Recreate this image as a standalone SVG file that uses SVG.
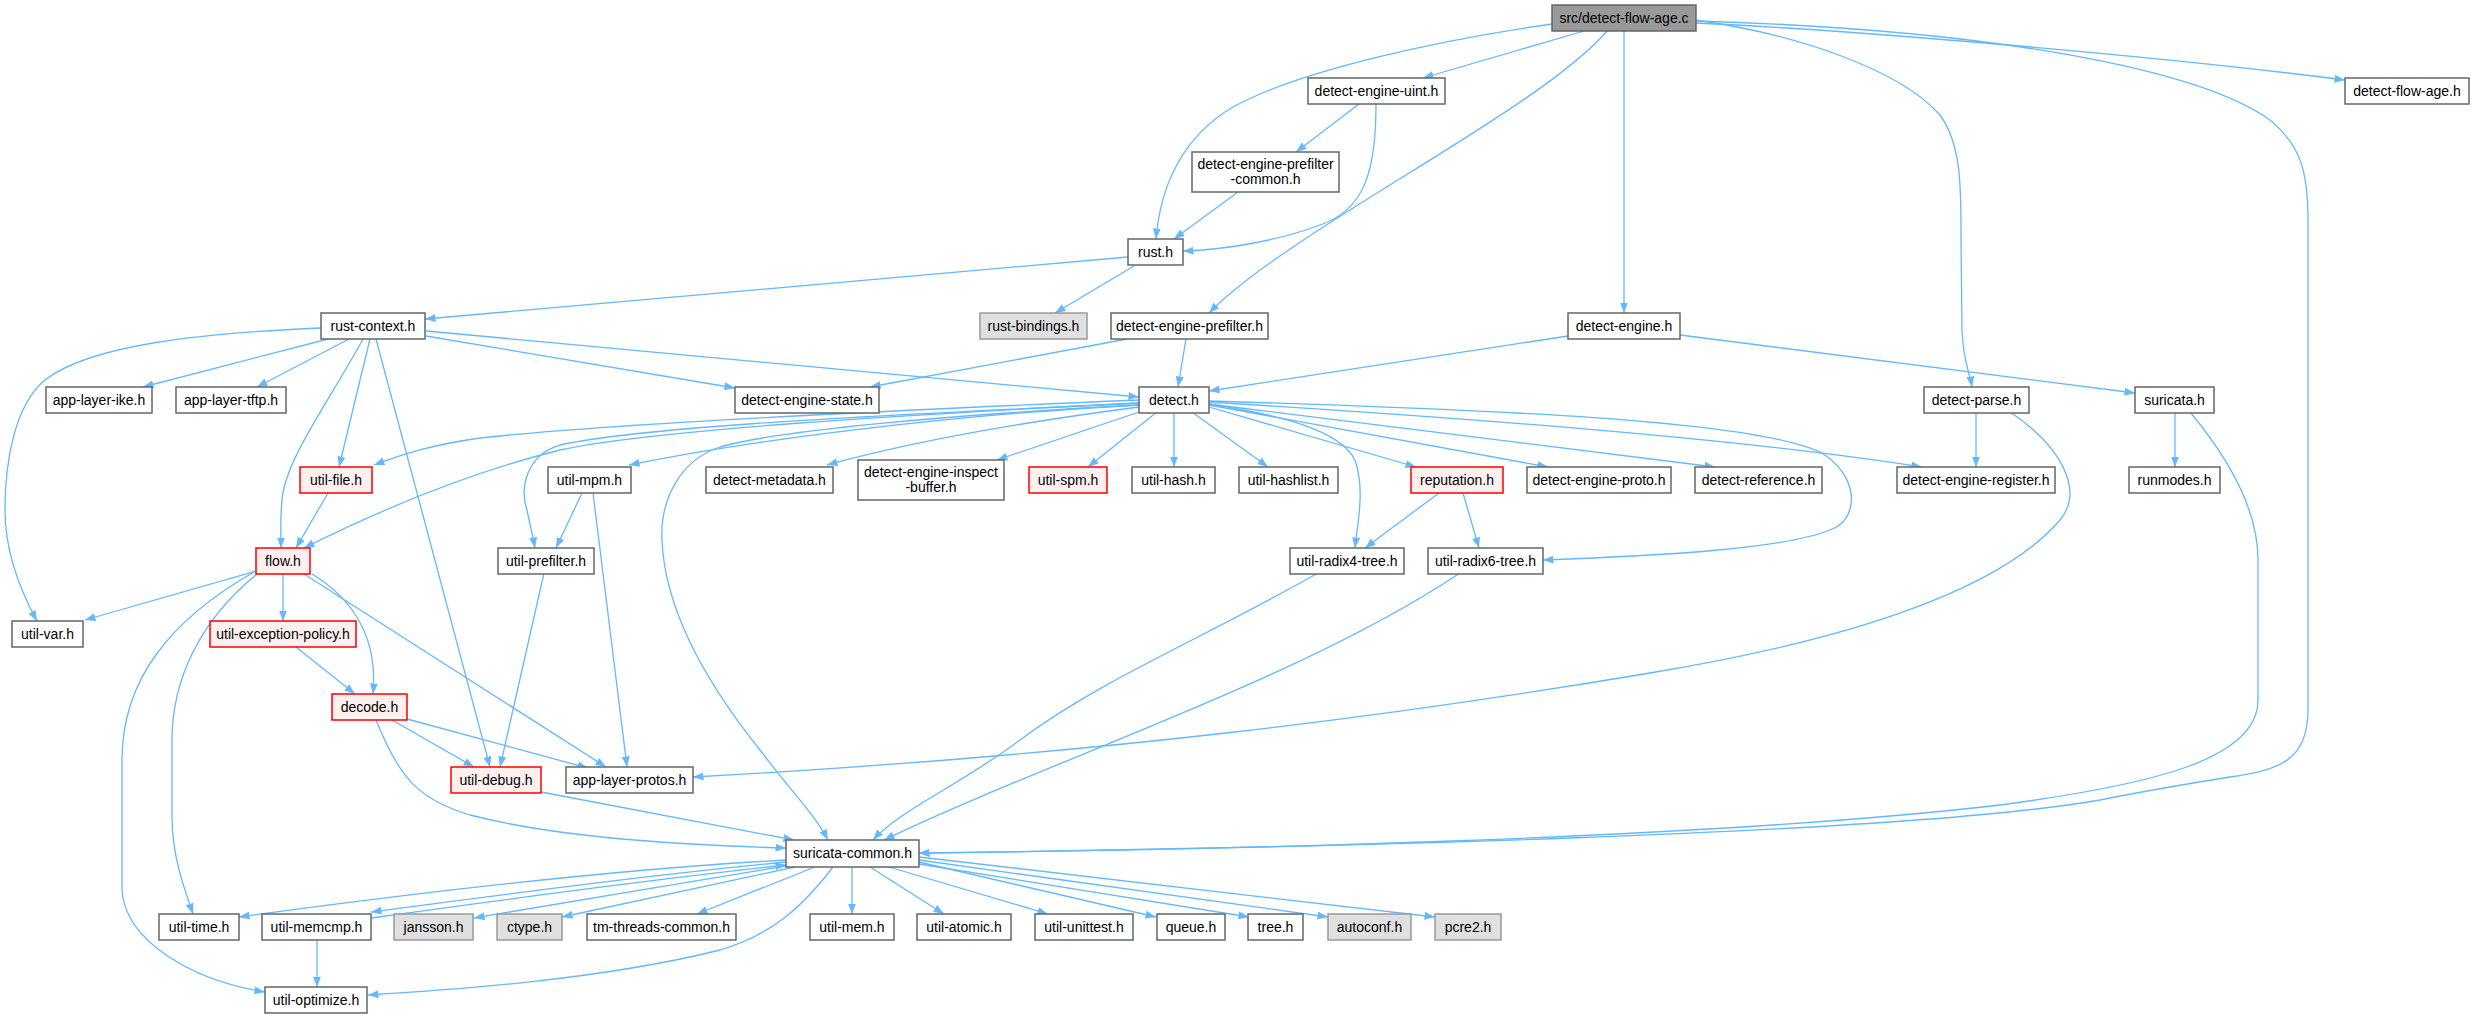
<svg xmlns="http://www.w3.org/2000/svg" width="2474" height="1019" viewBox="0 0 2474 1019">
<style>
.n rect{fill:#fff;stroke:#666;stroke-width:1.5}
.n.root rect{fill:#999;stroke:#666}
.n.ext rect{fill:#e0e0e0;stroke:#999}
.n.red rect{fill:#fff0f0;stroke:#f00}
.n text{font-family:"Liberation Sans",Arial,Helvetica,sans-serif;font-size:14px;fill:#000;text-anchor:middle}
#edges path{fill:none;stroke:#63b8ff;stroke-width:1.3;marker-end:url(#arr)}
</style>
<defs>
<marker id="arr" markerUnits="userSpaceOnUse" markerWidth="11" markerHeight="8" refX="10.5" refY="4" orient="auto">
<path d="M0,0 L10.5,4 L0,8 z" fill="#63b8ff"/>
</marker>
</defs>
<rect width="2474" height="1019" fill="#fff"/>
<g id="edges">
<!-- root -->
<path d="M1552,24 C1440,40 1300,70 1233,107 C1180,138 1160,190 1156,239"/>
<path d="M1584,31 L1423,78"/>
<path d="M1607,31 C1540,110 1290,230 1209,313"/>
<path d="M1624,31 L1624,313"/>
<path d="M1696,20 C1800,35 1900,70 1940,115 C1962,145 1961,190 1961,240 L1962,330 C1963,360 1970,375 1972,387"/>
<path d="M1696,23 C1850,30 2150,55 2345,80"/>
<path d="M1696,21 C2000,30 2200,70 2270,120 C2300,145 2308,170 2308,220 L2308,710 C2308,760 2280,770 2230,777 C2180,785 2150,790 2100,800 C1900,835 1300,848 919,853"/>
<!-- detect-engine-uint.h -->
<path d="M1359,104 L1296,152"/>
<path d="M1376,104 C1376,170 1365,210 1320,225 C1275,242 1220,250 1183,251"/>
<!-- prefilter-common -->
<path d="M1238,192 L1174,239"/>
<!-- rust.h -->
<path d="M1134,266 L1055,313"/>
<path d="M1128,257 L425,319"/>
<!-- rust-context.h -->
<path d="M321,328 C200,333 90,345 45,380 C15,405 5,460 5,510 C5,550 20,590 37,621"/>
<path d="M328,339 L143,387"/>
<path d="M349,339 L257,387"/>
<path d="M363,339 C330,400 285,460 282,500 C280,520 281,535 281,548"/>
<path d="M370,339 L339,467"/>
<path d="M376,339 L490,767"/>
<path d="M426,336 L735,388"/>
<path d="M426,331 L1139,397"/>
<!-- detect-engine-prefilter.h -->
<path d="M1127,339 L870,387"/>
<path d="M1186,339 L1178,387"/>
<!-- detect-engine.h -->
<path d="M1568,336 L1209,391"/>
<path d="M1680,335 L2135,393"/>
<!-- detect-parse.h -->
<path d="M1976,412 L1976,467"/>
<path d="M2010,412 C2060,445 2085,490 2060,520 C2000,590 1850,640 1650,673 C1400,715 1100,755 693,777"/>
<!-- suricata.h -->
<path d="M2175,412 L2175,467"/>
<path d="M2190,412 C2230,460 2258,510 2258,560 L2258,700 C2258,760 2150,785 2000,805 C1700,840 1200,850 919,853"/>
<!-- detect.h -->
<path d="M1139,400 C900,410 600,425 480,438 C430,445 400,455 374,465"/>
<path d="M1139,403 C900,415 650,430 560,450 C480,470 400,500 304,548"/>
<path d="M1139,403 C900,415 650,425 560,445 C525,455 520,490 527,510 C530,525 533,537 535,548"/>
<path d="M1139,405 C950,415 750,440 629,465"/>
<path d="M1139,405 C950,415 780,430 720,447 C680,460 660,500 662,540 C665,620 720,700 760,750 C790,790 815,815 828,840"/>
<path d="M1139,407 C1000,425 900,445 827,465"/>
<path d="M1139,412 L997,460"/>
<path d="M1157,412 L1088,467"/>
<path d="M1174,412 L1174,467"/>
<path d="M1192,412 L1268,467"/>
<path d="M1209,407 L1416,467"/>
<path d="M1209,405 L1548,467"/>
<path d="M1209,404 L1715,467"/>
<path d="M1209,402 C1500,420 1750,440 1922,467"/>
<path d="M1209,401 C1500,410 1750,420 1820,452 C1860,475 1860,520 1830,530 C1780,550 1650,556 1543,560"/>
<path d="M1209,404 C1280,415 1340,430 1355,460 C1365,490 1358,520 1355,548"/>
<!-- reputation.h -->
<path d="M1439,493 L1365,548"/>
<path d="M1463,493 L1479,548"/>
<!-- util-mpm.h -->
<path d="M582,493 L556,548"/>
<path d="M593,493 L627,767"/>
<!-- util-file.h -->
<path d="M328,493 L296,548"/>
<!-- util-prefilter.h -->
<path d="M544,573 L500,767"/>
<!-- flow.h -->
<path d="M256,571 L85,620"/>
<path d="M283,574 L283,621"/>
<path d="M312,574 C355,600 378,640 373,694"/>
<path d="M304,574 L606,767"/>
<path d="M257,574 C200,620 172,680 172,740 L172,820 C173,860 185,890 193,914"/>
<path d="M254,572 C170,620 122,680 122,760 L122,890 C125,940 190,980 265,992"/>
<!-- util-exception-policy.h -->
<path d="M296,647 L355,694"/>
<!-- decode.h -->
<path d="M392,720 L474,767"/>
<path d="M407,719 L588,768"/>
<path d="M376,720 C400,780 420,800 470,815 C560,838 680,845 786,848"/>
<!-- util-debug.h -->
<path d="M541,792 L794,840"/>
<!-- radix -->
<path d="M1318,573 C1200,640 1100,680 1020,740 C960,785 900,810 873,840"/>
<path d="M1460,573 C1300,680 1050,760 884,840"/>
<!-- suricata-common.h -->
<path d="M786,860 C600,870 400,895 239,917"/>
<path d="M786,862 C650,875 500,895 371,912"/>
<path d="M371,918 C500,900 650,880 786,865"/>
<path d="M786,866 C700,880 550,905 474,918"/>
<path d="M795,867 L562,917"/>
<path d="M815,867 L697,914"/>
<path d="M833,867 C800,910 770,935 720,950 C600,980 450,990 368,995"/>
<path d="M852,867 L852,914"/>
<path d="M870,867 L944,914"/>
<path d="M889,867 L1048,914"/>
<path d="M919,862 L1156,917"/>
<path d="M919,864 L1249,917"/>
<path d="M919,860 L1328,917"/>
<path d="M919,857 L1435,917"/>
<!-- util-memcmp.h -->
<path d="M317,940 L317,987"/>
</g>
<g id="n_root" class="n root"><rect x="1552" y="5" width="144" height="26"/><text x="1624" y="23">src/detect-flow-age.c</text></g>
<g id="n_uint" class="n"><rect x="1308" y="78" width="137" height="26"/><text x="1376.5" y="96">detect-engine-uint.h</text></g>
<g id="n_flowageh" class="n"><rect x="2345" y="78" width="124" height="26"/><text x="2407" y="96">detect-flow-age.h</text></g>
<g id="n_pfcommon" class="n"><rect x="1192" y="152" width="147" height="40"/><text x="1265.5" y="168.5">detect-engine-prefilter</text><text x="1265.5" y="183.5">-common.h</text></g>
<g id="n_rust" class="n"><rect x="1128" y="239" width="55" height="26"/><text x="1155.5" y="257">rust.h</text></g>
<g id="n_rustctx" class="n"><rect x="321" y="313" width="104" height="26"/><text x="373" y="331">rust-context.h</text></g>
<g id="n_rustbind" class="n ext"><rect x="980" y="313" width="107" height="26"/><text x="1033.5" y="331">rust-bindings.h</text></g>
<g id="n_prefilter" class="n"><rect x="1111" y="313" width="157" height="26"/><text x="1189.5" y="331">detect-engine-prefilter.h</text></g>
<g id="n_engine" class="n"><rect x="1568" y="313" width="112" height="26"/><text x="1624" y="331">detect-engine.h</text></g>
<g id="n_ike" class="n"><rect x="46" y="387" width="106" height="26"/><text x="99" y="405">app-layer-ike.h</text></g>
<g id="n_tftp" class="n"><rect x="176" y="387" width="110" height="26"/><text x="231" y="405">app-layer-tftp.h</text></g>
<g id="n_state" class="n"><rect x="735" y="387" width="144" height="26"/><text x="807" y="405">detect-engine-state.h</text></g>
<g id="n_detect" class="n"><rect x="1139" y="387" width="70" height="26"/><text x="1174" y="405">detect.h</text></g>
<g id="n_parse" class="n"><rect x="1924" y="387" width="105" height="26"/><text x="1976.5" y="405">detect-parse.h</text></g>
<g id="n_suricata" class="n"><rect x="2135" y="387" width="79" height="26"/><text x="2174.5" y="405">suricata.h</text></g>
<g id="n_utilfile" class="n red"><rect x="300" y="467" width="72" height="26"/><text x="336" y="485">util-file.h</text></g>
<g id="n_mpm" class="n"><rect x="548" y="467" width="83" height="26"/><text x="589.5" y="485">util-mpm.h</text></g>
<g id="n_metadata" class="n"><rect x="706" y="467" width="127" height="26"/><text x="769.5" y="485">detect-metadata.h</text></g>
<g id="n_inspect" class="n"><rect x="858" y="460" width="146" height="40"/><text x="931" y="476.5">detect-engine-inspect</text><text x="931" y="491.5">-buffer.h</text></g>
<g id="n_spm" class="n red"><rect x="1029" y="467" width="78" height="26"/><text x="1068" y="485">util-spm.h</text></g>
<g id="n_hash" class="n"><rect x="1132" y="467" width="83" height="26"/><text x="1173.5" y="485">util-hash.h</text></g>
<g id="n_hashlist" class="n"><rect x="1239" y="467" width="99" height="26"/><text x="1288.5" y="485">util-hashlist.h</text></g>
<g id="n_reputation" class="n red"><rect x="1411" y="467" width="92" height="26"/><text x="1457" y="485">reputation.h</text></g>
<g id="n_proto" class="n"><rect x="1527" y="467" width="144" height="26"/><text x="1599" y="485">detect-engine-proto.h</text></g>
<g id="n_reference" class="n"><rect x="1695" y="467" width="127" height="26"/><text x="1758.5" y="485">detect-reference.h</text></g>
<g id="n_register" class="n"><rect x="1897" y="467" width="158" height="26"/><text x="1976" y="485">detect-engine-register.h</text></g>
<g id="n_runmodes" class="n"><rect x="2129" y="467" width="91" height="26"/><text x="2174.5" y="485">runmodes.h</text></g>
<g id="n_flow" class="n red"><rect x="256" y="548" width="54" height="26"/><text x="283" y="566">flow.h</text></g>
<g id="n_prefilterh" class="n"><rect x="498" y="548" width="96" height="26"/><text x="546" y="566">util-prefilter.h</text></g>
<g id="n_radix4" class="n"><rect x="1290" y="548" width="114" height="26"/><text x="1347" y="566">util-radix4-tree.h</text></g>
<g id="n_radix6" class="n"><rect x="1428" y="548" width="115" height="26"/><text x="1485.5" y="566">util-radix6-tree.h</text></g>
<g id="n_var" class="n"><rect x="12" y="621" width="71" height="26"/><text x="47.5" y="639">util-var.h</text></g>
<g id="n_exception" class="n red"><rect x="210" y="621" width="146" height="26"/><text x="283" y="639">util-exception-policy.h</text></g>
<g id="n_decode" class="n red"><rect x="332" y="694" width="75" height="26"/><text x="369.5" y="712">decode.h</text></g>
<g id="n_debug" class="n red"><rect x="451" y="767" width="90" height="26"/><text x="496" y="785">util-debug.h</text></g>
<g id="n_protos" class="n"><rect x="566" y="767" width="127" height="26"/><text x="629.5" y="785">app-layer-protos.h</text></g>
<g id="n_common" class="n"><rect x="786" y="840" width="133" height="27"/><text x="852.5" y="858">suricata-common.h</text></g>
<g id="n_time" class="n"><rect x="159" y="914" width="80" height="26"/><text x="199" y="932">util-time.h</text></g>
<g id="n_memcmp" class="n"><rect x="262" y="914" width="109" height="26"/><text x="316.5" y="932">util-memcmp.h</text></g>
<g id="n_jansson" class="n ext"><rect x="394" y="914" width="79" height="26"/><text x="433.5" y="932">jansson.h</text></g>
<g id="n_ctype" class="n ext"><rect x="497" y="914" width="65" height="26"/><text x="529.5" y="932">ctype.h</text></g>
<g id="n_tmthreads" class="n"><rect x="587" y="914" width="149" height="26"/><text x="661.5" y="932">tm-threads-common.h</text></g>
<g id="n_mem" class="n"><rect x="810" y="914" width="84" height="26"/><text x="852" y="932">util-mem.h</text></g>
<g id="n_atomic" class="n"><rect x="917" y="914" width="94" height="26"/><text x="964" y="932">util-atomic.h</text></g>
<g id="n_unittest" class="n"><rect x="1035" y="914" width="98" height="26"/><text x="1084" y="932">util-unittest.h</text></g>
<g id="n_queue" class="n"><rect x="1157" y="914" width="68" height="26"/><text x="1191" y="932">queue.h</text></g>
<g id="n_tree" class="n"><rect x="1248" y="914" width="55" height="26"/><text x="1275.5" y="932">tree.h</text></g>
<g id="n_autoconf" class="n ext"><rect x="1328" y="914" width="83" height="26"/><text x="1369.5" y="932">autoconf.h</text></g>
<g id="n_pcre2" class="n ext"><rect x="1435" y="914" width="66" height="26"/><text x="1468" y="932">pcre2.h</text></g>
<g id="n_optimize" class="n"><rect x="265" y="987" width="102" height="26"/><text x="316" y="1005">util-optimize.h</text></g>
</svg>
